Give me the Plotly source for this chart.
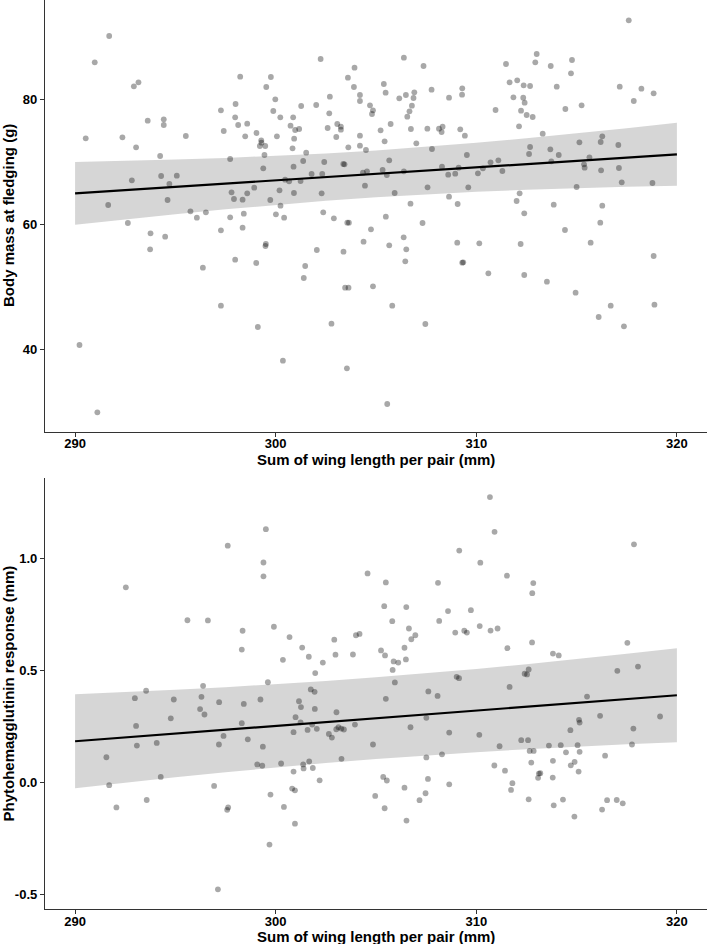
import plotly.graph_objects as go

# ---------------- data: top panel (body mass) ----------------
top_wing = [291.70, 290.98, 290.53, 292.93, 293.16, 292.36, 293.04, 293.62, 294.42, 294.42,
            295.52, 294.24, 292.83, 294.29, 295.07, 294.70, 294.61, 291.65, 295.75, 296.52,
            296.07, 292.63, 297.27, 297.98, 298.00, 298.23, 298.13, 298.58, 298.48, 297.41,
            297.73, 297.80, 297.92, 298.35, 298.58, 298.93, 297.73, 298.41, 299.76, 299.53,
            299.98, 299.88, 300.23, 299.04, 299.28, 299.29, 299.48, 299.21, 299.44, 300.06,
            299.38, 300.19, 299.73, 300.24, 300.01, 300.42, 300.87, 300.74, 301.17, 300.97,
            300.92, 300.84, 301.27, 301.52, 301.37, 300.89, 300.47, 300.67, 301.24, 300.91,
            301.79, 302.24, 302.02, 302.70, 302.67, 302.59, 303.07, 303.25, 303.25, 303.02,
            303.62, 302.42, 302.32, 303.37, 303.43, 302.29, 302.37, 302.90, 303.57, 303.65,
            303.93, 303.60, 303.90, 304.20, 304.20, 304.70, 304.85, 304.80, 304.20, 304.20,
            304.50, 304.35, 304.55, 304.45,
            317.60, 306.39, 307.37, 305.39, 305.48, 306.16, 306.49, 306.91, 306.87, 306.79,
            306.67, 306.56, 307.77, 308.64, 309.30, 309.29, 305.23, 305.73, 306.74, 305.43,
            307.01, 307.56, 308.14, 308.32, 308.27, 309.20, 309.43, 307.79, 305.66, 305.33,
            305.54, 306.39, 308.29, 308.60, 308.95, 309.12, 309.53, 310.08, 310.33, 310.71,
            311.10, 311.30, 305.93, 307.57, 309.60, 306.72, 308.64, 309.07, 305.49, 307.32,
            311.48, 313.01, 312.94, 313.71, 314.77, 314.72, 311.66, 312.04, 312.36, 312.68,
            311.85, 312.34, 312.41, 310.96, 312.23, 312.51, 312.81, 314.01, 314.44, 315.25,
            312.13, 313.31, 317.15, 318.23, 318.84, 317.85, 312.68, 312.63, 313.69, 314.11,
            313.74, 315.14, 316.20, 316.28, 317.08, 315.64, 315.37, 315.40, 316.22, 317.11,
            317.25, 318.78, 315.00, 312.16, 312.01, 313.86, 312.39, 316.28, 316.18,
            293.76, 293.74, 294.49, 290.22, 291.11, 296.37, 297.27, 298.35, 297.98, 297.27,
            299.03, 299.51, 299.49, 299.11, 300.36, 302.05, 301.47, 301.40, 303.38, 303.46,
            303.63, 302.78, 303.55, 304.75, 304.38, 304.85,
            305.66, 306.38, 306.51, 306.46, 305.81, 307.46, 305.56, 309.05, 310.15, 309.35,
            309.30, 310.60, 312.21, 312.39, 313.52, 314.42, 315.70, 314.95, 316.70, 316.10,
            317.36, 318.84, 318.88]
top_mass = [90.08, 85.87, 73.71, 82.03, 82.67, 73.87, 72.27, 76.53, 76.75, 75.84,
            74.08, 70.88, 66.99, 67.68, 67.73, 66.40, 63.84, 63.04, 62.03, 61.87,
            61.01, 60.16, 78.19, 77.07, 79.20, 83.57, 75.84, 76.05, 74.03, 74.88,
            70.40, 65.07, 64.00, 63.89, 64.91, 65.81, 61.07, 61.65, 83.52, 81.92,
            79.95, 78.08, 77.07, 74.56, 73.39, 73.01, 72.48, 72.48, 71.04, 74.03,
            68.91, 65.39, 63.84, 62.93, 61.55, 61.01, 77.07, 75.73, 75.20, 75.04,
            73.65, 72.11, 78.88, 71.41, 70.08, 69.17, 67.09, 66.83, 66.88, 64.96,
            68.00, 86.40, 79.04, 80.37, 77.71, 75.36, 76.00, 75.57, 75.09, 73.92,
            72.27, 69.92, 68.00, 69.60, 69.55, 64.91, 61.87, 60.91, 60.21, 60.21,
            85.01, 83.41, 81.92, 80.64, 79.68, 78.99, 78.19, 77.60, 74.13, 72.53,
            71.84, 68.21, 68.43, 66.13,
            92.59, 86.61, 85.28, 82.40, 81.01, 80.11, 80.64, 81.07, 80.16, 78.93,
            78.03, 77.17, 81.49, 80.21, 81.71, 80.69, 74.99, 76.00, 75.20, 73.23,
            72.91, 75.25, 75.25, 75.57, 74.72, 75.15, 74.13, 72.00, 70.19, 68.64,
            67.84, 68.43, 69.17, 67.89, 68.05, 69.01, 71.04, 68.11, 68.91, 69.87,
            70.19, 68.48, 64.96, 65.87, 65.87, 63.25, 64.37, 63.20, 61.17, 60.16,
            85.60, 87.20, 85.87, 85.28, 86.24, 84.11, 82.67, 82.99, 82.19, 82.08,
            80.27, 80.21, 79.41, 78.24, 78.13, 77.44, 77.12, 81.97, 78.40, 78.99,
            75.63, 74.45, 81.97, 81.65, 80.91, 79.68, 72.32, 71.20, 71.95, 71.04,
            70.03, 73.07, 73.12, 74.03, 72.64, 70.67, 69.55, 69.01, 68.59, 68.96,
            66.67, 66.56, 65.92, 64.91, 63.68, 63.09, 61.71, 62.93, 60.21,
            58.51, 55.95, 57.97, 40.64, 29.87, 53.01, 58.99, 59.41, 54.29, 46.93,
            53.76, 56.80, 56.48, 43.52, 38.13, 55.84, 53.28, 51.36, 55.57, 49.81,
            49.81, 44.05, 36.91, 59.15, 57.17, 50.03,
            56.59, 57.87, 55.95, 54.03, 46.93, 44.00, 31.20, 57.01, 56.91, 53.87,
            53.81, 52.11, 56.80, 51.84, 50.77, 59.04, 57.01, 49.01, 46.93, 45.12,
            43.63, 54.88, 47.09]

# ---------------- data: bottom panel (PHA response) ----------------
bot_wing = [292.53, 297.61, 299.51, 299.39, 299.39, 295.60, 296.62, 298.35, 298.31, 299.91,
            300.69, 300.36, 301.32, 301.65, 301.97, 302.35, 302.92, 302.98, 303.85, 304.00,
            304.18, 304.58,
            310.68, 310.91, 309.15, 310.20, 311.53, 317.86, 305.49, 308.09, 312.84, 312.79,
            305.41, 306.51, 308.59, 309.73, 305.81, 308.15, 306.64, 306.96, 306.76, 308.95,
            309.40, 309.53, 310.17, 310.71, 311.06, 305.25, 305.45, 306.42, 306.49, 305.88,
            306.11, 305.83, 311.55, 312.78, 313.82, 314.11, 317.53, 317.03, 318.06, 309.02,
            309.14, 312.41, 312.61, 312.53,
            296.38, 299.61, 293.54, 292.98, 294.92, 296.30, 296.23, 296.45, 297.18, 298.41,
            299.24, 294.77, 293.04, 293.08, 294.07, 291.56, 291.70, 292.06, 294.27, 293.57,
            298.31, 297.40, 297.17, 298.61, 299.36, 299.08, 299.33, 296.93, 297.63, 297.58,
            299.74, 299.69, 297.12, 300.27, 300.41, 300.82, 300.96, 300.96, 300.89, 300.89,
            300.99, 301.16, 301.26, 301.24, 301.59, 301.37, 301.39, 301.67, 301.85, 301.75,
            301.94, 301.95, 302.05, 301.82, 302.19, 302.65, 302.80, 303.03, 303.02, 303.13,
            303.27, 303.40, 303.28, 303.95, 304.85, 304.96,
            305.94, 305.49, 307.61, 308.07, 307.51, 306.72, 308.65, 310.15, 311.66, 315.52,
            316.17, 319.16, 317.83, 315.12, 315.15, 314.69, 317.76, 308.29, 307.51, 311.16,
            312.24, 312.58, 312.66, 312.86, 313.62, 314.21, 315.05, 315.15, 314.47, 316.42,
            313.82, 314.90, 314.71, 312.74, 310.90, 311.43, 313.19, 313.12, 313.08, 313.81,
            315.10, 311.80, 311.73, 308.65, 307.59, 305.36, 305.54, 306.42, 307.47, 307.17,
            305.43, 306.52, 312.61, 313.86, 314.32, 314.89, 316.27, 316.52, 317.00, 317.30]
bot_pha = [0.873, 1.059, 1.133, 0.984, 0.922, 0.726, 0.725, 0.679, 0.595, 0.697,
           0.651, 0.549, 0.604, 0.563, 0.490, 0.537, 0.639, 0.572, 0.573, 0.659,
           0.665, 0.935,
           1.276, 1.121, 1.037, 0.983, 0.925, 1.065, 0.895, 0.893, 0.892, 0.847,
           0.789, 0.785, 0.767, 0.771, 0.722, 0.723, 0.689, 0.659, 0.641, 0.671,
           0.679, 0.671, 0.700, 0.680, 0.689, 0.591, 0.569, 0.603, 0.551, 0.542,
           0.537, 0.504, 0.601, 0.627, 0.577, 0.569, 0.625, 0.500, 0.519, 0.473,
           0.467, 0.487, 0.506, 0.484,
           0.433, 0.449, 0.411, 0.378, 0.372, 0.384, 0.329, 0.305, 0.360, 0.352,
           0.372, 0.288, 0.254, 0.166, 0.178, 0.114, -0.011, -0.110, 0.026, -0.077,
           0.266, 0.209, 0.171, 0.194, 0.161, 0.082, 0.076, -0.014, -0.110, -0.121,
           -0.053, -0.276, -0.476, 0.086, -0.108, -0.026, -0.034, -0.183, 0.050, 0.226,
           0.293, 0.364, 0.338, 0.270, 0.236, 0.082, 0.064, 0.095, 0.066, 0.417,
           0.406, 0.330, 0.241, 0.260, 0.011, 0.218, 0.202, 0.315, 0.239, 0.248,
           0.242, 0.238, 0.107, 0.260, 0.171, -0.059,
           0.448, 0.375, 0.408, 0.388, 0.290, 0.248, 0.224, 0.214, 0.428, 0.385,
           0.299, 0.296, 0.242, 0.281, 0.269, 0.235, 0.171, 0.127, 0.113, 0.163,
           0.190, 0.190, 0.142, 0.142, 0.166, 0.168, 0.168, 0.138, 0.136, 0.121,
           0.098, 0.093, 0.078, 0.090, 0.077, 0.054, 0.043, 0.041, 0.022, 0.023,
           0.050, -0.002, -0.032, -0.007, 0.017, 0.026, 0.010, -0.022, -0.047, -0.078,
           -0.114, -0.169, -0.074, -0.101, -0.075, -0.151, -0.120, -0.078, -0.077, -0.092]

# ---------------- fitted lines and confidence bands ----------------
fit_wing = [290, 292.5, 295, 297.5, 300, 302.5, 305, 307.5, 310, 312.5, 315, 317.5, 320]
top_fit = [64.90, 65.42, 65.94, 66.46, 66.98, 67.50, 68.02, 68.55, 69.07, 69.59, 70.11, 70.63, 71.15]
top_lo = [59.87, 60.74, 61.57, 62.35, 63.07, 63.71, 64.27, 64.76, 65.16, 65.48, 65.74, 65.95, 66.12]
top_hi = [69.93, 70.10, 70.31, 70.57, 70.89, 71.29, 71.77, 72.34, 72.98, 73.70, 74.48, 75.31, 76.18]
bot_fit = [0.1855, 0.2026, 0.2198, 0.2369, 0.2540, 0.2711, 0.2883, 0.3054, 0.3225, 0.3396, 0.3568, 0.3739, 0.3910]
bot_lo = [-0.0245, 0.0006, 0.0246, 0.0472, 0.0683, 0.0878, 0.1058, 0.1221, 0.1368, 0.1499, 0.1616, 0.1719, 0.1810]
bot_hi = [0.3955, 0.4046, 0.4150, 0.4266, 0.4397, 0.4544, 0.4708, 0.4887, 0.5082, 0.5293, 0.5520, 0.5759, 0.6010]

x_ticks = [290, 300, 310, 320]
top_ticks = [40, 60, 80]
bot_ticks = [-0.5, 0.0, 0.5, 1.0]
bot_ticktext = ["-0.5", "0.0", "0.5", "1.0"]

x_title = "Sum of wing length per pair (mm)"
top_ytitle = "Body mass at fledging (g)"
bot_ytitle = "Phytohemagglutinin response (mm)"

BAND = "rgba(153,153,153,0.4)"
PT = "rgba(0,0,0,0.34)"
FONT = "Liberation Sans, Arial, sans-serif"

fig = go.Figure()


def add_panel(xa, ya, xs, ys, fit, lo, hi):
    fig.add_trace(go.Scatter(x=fit_wing + fit_wing[::-1], y=hi + lo[::-1], fill="toself",
                             fillcolor=BAND, line=dict(width=0), mode="lines",
                             hoverinfo="skip", showlegend=False, xaxis=xa, yaxis=ya))
    fig.add_trace(go.Scatter(x=xs, y=ys, mode="markers",
                             marker=dict(size=5.8, color=PT, line=dict(width=0)),
                             showlegend=False, xaxis=xa, yaxis=ya))
    fig.add_trace(go.Scatter(x=fit_wing, y=fit, mode="lines",
                             line=dict(color="black", width=2.2),
                             showlegend=False, xaxis=xa, yaxis=ya))


add_panel("x", "y", top_wing, top_mass, top_fit, top_lo, top_hi)
add_panel("x2", "y2", bot_wing, bot_pha, bot_fit, bot_lo, bot_hi)

axis_common = dict(showline=True, linecolor="#333333", linewidth=1.3, ticks="outside",
                   ticklen=4, tickwidth=1.1, tickcolor="#333333", showgrid=False,
                   zeroline=False,
                   tickfont=dict(family=FONT, size=13, color="black", weight="bold"))

fig.update_layout(
    width=708, height=944,
    margin=dict(l=45, r=1, t=0, b=35),
    plot_bgcolor="white", paper_bgcolor="white",
    xaxis=dict(range=[288.5, 321.5], tickvals=x_ticks, anchor="y", ticklabelstandoff=-4, **axis_common),
    yaxis=dict(range=[26.77, 95.84], tickvals=top_ticks, domain=[0.5251, 1.0], anchor="x", **axis_common),
    xaxis2=dict(range=[288.5, 321.5], tickvals=x_ticks, anchor="y2", ticklabelstandoff=-4, **axis_common),
    yaxis2=dict(range=[-0.564, 1.36], tickvals=bot_ticks, ticktext=bot_ticktext,
                domain=[0.0, 0.4738], anchor="x2", **axis_common),
)

title_font = dict(family=FONT, size=15, color="black", weight="bold")
PH = 909.0
fig.add_annotation(text=x_title, xref="paper", yref="paper", x=(376 - 45) / 662, y=(PH - 459.5) / PH,
                   xanchor="center", yanchor="middle", showarrow=False, font=title_font)
fig.add_annotation(text=x_title, xref="paper", yref="paper", x=(376 - 45) / 662, y=(PH - 936) / PH,
                   xanchor="center", yanchor="middle", showarrow=False, font=title_font)
fig.add_annotation(text=top_ytitle, xref="paper", yref="paper", x=(8 - 45) / 662, y=(PH - 216) / PH,
                   xanchor="center", yanchor="middle", textangle=-90, showarrow=False, font=title_font)
fig.add_annotation(text=bot_ytitle, xref="paper", yref="paper", x=(8 - 45) / 662, y=(PH - 693.5) / PH,
                   xanchor="center", yanchor="middle", textangle=-90, showarrow=False, font=title_font)

fig.write_html("out.html")
